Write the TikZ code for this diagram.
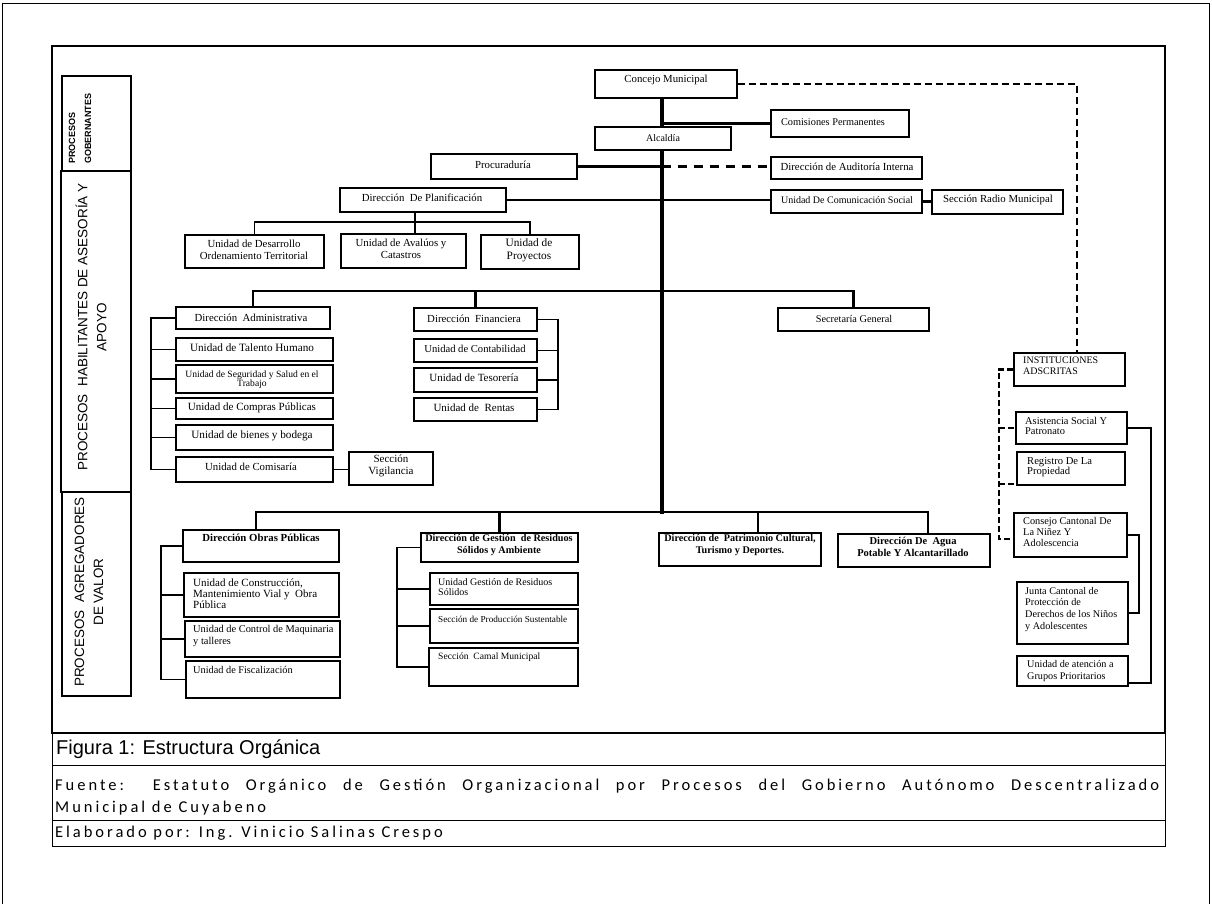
\documentclass[tikz,border=0pt]{standalone}
\usepackage{fontspec}
\setmainfont{Liberation Serif}
\newfontfamily\arialf{Liberation Sans}
\newfontfamily\calib[LetterSpace=18]{Carlito}
\usetikzlibrary{fit}
\tikzset{
 box/.style={draw, line width=1.2pt, inner sep=0pt},
 txt/.style={inner sep=0pt, font=\fontsize{10.8}{11.5}\selectfont, align=center},
 txtl/.style={inner sep=0pt, font=\fontsize{10.3}{11}\selectfont, align=left, anchor=north west},
 txtb/.style={inner sep=0pt, font=\bfseries\fontsize{10.2}{12}\selectfont, align=center},
 trunk/.style={line width=4.5pt},
 mainl/.style={line width=2.6pt},
 thinl/.style={line width=1.1pt},
 dashl/.style={line width=2.6pt, dash pattern=on 7pt off 4pt},
 dashm/.style={line width=2.6pt, dash pattern=on 9pt off 7pt},
 dashb/.style={line width=2.2pt, dash pattern=on 6pt off 3pt},
 lab/.style={inner sep=0pt, font=\arialf\fontsize{13.5}{19}\selectfont, align=center, rotate=90},
 captxt/.style={inner sep=0pt, anchor=west},
}
\newcommand\mkbox[5]{\node[box, fit={(#2,#3)(#4,#5)}] (#1) {};}
\newcommand\fs[1]{\fontsize{#1}{11.5}\selectfont}
\begin{document}
\begin{tikzpicture}[x=1pt,y=-1pt]
\useasboundingbox (0,0) rectangle (1212,904);
% frames
\draw[line width=1pt] (2,904) -- (2,4) -- (1209,4) -- (1209,904);
\draw[line width=2pt] (52,46) rectangle (1165,733);
\draw[line width=1pt] (52,733) rectangle (1165,765);
\draw[line width=1pt] (52,765) rectangle (1165,820);
\draw[line width=1pt] (52,820) rectangle (1165,846);
% left process labels
\mkbox{gob}{62}{76}{131}{171}
\mkbox{hab}{61}{171}{131}{492}
\mkbox{agr}{62}{492}{131}{696}
\node[inner sep=0pt, rotate=90, anchor=west, align=left, font=\arialf\bfseries\fontsize{9}{16}\selectfont] (gob-t) at (80,164) {PROCESOS\\GOBERNANTES};
\node[lab] (hab-t) at (91,327) {PROCESOS~~HABILITANTES DE ASESORÍA Y\\APOYO};
\node[lab] (agr-t) at (89,592) {PROCESOS~~AGREGADORES\\DE VALOR};
% boxes
\mkbox{concejo}{595}{70}{737}{98}
\mkbox{alcaldia}{595}{127}{731}{150}
\mkbox{comis}{771}{110}{909}{137}
\mkbox{procu}{431}{154}{577}{179}
\mkbox{audit}{771}{157}{922}{179}
\mkbox{planif}{340}{188}{506}{212}
\mkbox{comun}{771}{190}{922}{213}
\mkbox{radio}{932}{190}{1063}{214}
\mkbox{desarr}{185}{235}{324}{268}
\mkbox{avaluos}{341}{234}{466}{268}
\mkbox{proyec}{481}{235}{579}{269}
\mkbox{admin}{176}{307}{330}{329}
\mkbox{talento}{176}{338}{333}{361}
\mkbox{segur}{176}{365}{333}{393}
\mkbox{compras}{176}{398}{333}{419}
\mkbox{bienes}{176}{425}{333}{450}
\mkbox{comisar}{176}{457}{333}{482}
\mkbox{vigil}{349}{452}{433}{485}
\mkbox{finan}{414}{308}{537}{331}
\mkbox{contab}{414}{339}{537}{362}
\mkbox{tesor}{414}{368}{537}{392}
\mkbox{rentas}{414}{398}{537}{421}
\mkbox{secre}{778}{308}{929}{331}
\mkbox{obras}{183}{530}{339}{562}
\mkbox{constr}{184}{573}{339}{617}
\mkbox{maquin}{185}{621}{340}{657}
\mkbox{fiscal}{186}{661}{340}{698}
\mkbox{resid}{421}{533}{578}{562}
\mkbox{ugres}{430}{573}{578}{605}
\mkbox{produc}{430}{609}{578}{643}
\mkbox{camal}{429}{648}{578}{686}
\mkbox{patrim}{659}{533}{821}{566}
\mkbox{agua}{838}{534}{990}{567}
\mkbox{instit}{1014}{353}{1125}{386}
\mkbox{asist}{1016}{412}{1127}{444}
\mkbox{regis}{1017}{452}{1125}{485}
\mkbox{conse}{1014}{513}{1127}{557}
\mkbox{junta}{1017}{582}{1128}{644}
\mkbox{grupos}{1017}{656}{1128}{686}
% texts
\node[txt] (concejo-t) at (666,80) {Concejo Municipal};
\node[txt, font=\fs{10}] (alcaldia-t) at (663,138) {Alcaldía};
\node[txt, font=\fs{10.3}] (comis-t) at (833,122) {Comisiones Permanentes};
\node[txt] (procu-t) at (503,165) {Procuraduría};
\node[txt] (audit-t) at (847,167) {Dirección de Auditoría Interna};
\node[txt] (planif-t) at (422,198) {Dirección~~De Planificación};
\node[txt, font=\fs{10}] (comun-t) at (847,200) {Unidad De Comunicación Social};
\node[txt] (radio-t) at (998,200) {Sección Radio Municipal};
\node[txt] (desarr-t) at (254,250) {Unidad de Desarrollo\\Ordenamiento Territorial};
\node[txt] (avaluos-t) at (401,249) {Unidad de Avalúos y\\Catastros};
\node[txt, font=\fontsize{11.3}{13}\selectfont] (proyec-t) at (529,250) {Unidad de\\Proyectos};
\node[txt] (admin-t) at (251,318) {Dirección~~Administrativa};
\node[txt, font=\fs{11.2}] (talento-t) at (252,348) {Unidad de Talento Humano};
\node[txt, font=\fontsize{9.6}{9}\selectfont] (segur-t) at (252,380) {Unidad de Seguridad y Salud en el\\Trabajo};
\node[txt, font=\fs{11}] (compras-t) at (252,408) {Unidad de Compras Públicas};
\node[txt, font=\fs{11.2}] (bienes-t) at (252,436) {Unidad de bienes y bodega};
\node[txt] (comisar-t) at (251,467) {Unidad de Comisaría};
\node[txt, font=\fontsize{11}{12}\selectfont] (vigil-t) at (391,466) {Sección\\Vigilancia};
\node[txt] (finan-t) at (474,319) {Dirección~~Financiera};
\node[txt, font=\fs{10.6}] (contab-t) at (475,349) {Unidad de Contabilidad};
\node[txt, font=\fs{11}] (tesor-t) at (474,378) {Unidad de Tesorería};
\node[txt, font=\fs{11}] (rentas-t) at (474,408) {Unidad de~~Rentas};
\node[txt, font=\fs{10.3}] (secre-t) at (854,319) {Secretaría General};
\node[txtb, font=\bfseries\fs{10.8}] (obras-t) at (261,538) {Dirección Obras Públicas};
\node[txtl, font=\fontsize{11}{11}\selectfont] (constr-t) at (193,579) {Unidad de Construcción,\\Mantenimiento Vial y~ Obra\\Pública};
\node[txtl, font=\fontsize{10.4}{12}\selectfont] (maquin-t) at (193,625) {Unidad de Control de Maquinaria\\y talleres};
\node[txtl] (fiscal-t) at (193,666) {Unidad de Fiscalización};
\node[txtb] (resid-t) at (499,545) {Dirección de Gestión~~de Residuos\\Sólidos y Ambiente};
\node[txtl, font=\fontsize{10}{10.5}\selectfont] (ugres-t) at (438,578) {Unidad Gestión de Residuos\\Sólidos};
\node[txtl, font=\fs{9.2}] (produc-t) at (438,616) {Sección de Producción Sustentable};
\node[txtl, font=\fs{9.6}] (camal-t) at (438,653) {Sección~~Camal Municipal};
\node[txtb] (patrim-t) at (740,545) {Dirección de~~Patrimonio Cultural,\\Turismo y Deportes.};
\node[txtb, font=\bfseries\fontsize{10.5}{12}\selectfont] (agua-t) at (913,547) {Dirección De~~Agua\\Potable Y Alcantarillado};
\node[txtl, font=\fontsize{10}{10.5}\selectfont] (instit-t) at (1023,357) {INSTITUCIONES\\ADSCRITAS};
\node[txtl, font=\fontsize{10.4}{10.5}\selectfont] (asist-t) at (1025,417) {Asistencia Social Y\\Patronato};
\node[txtl, font=\fontsize{10.6}{10.5}\selectfont] (regis-t) at (1027,457) {Registro De La\\Propiedad};
\node[txtl] (conse-t) at (1023,517) {Consejo Cantonal De\\La Niñez Y\\Adolescencia};
\node[txtl, font=\fontsize{10.2}{11.7}\selectfont] (junta-t) at (1025,587) {Junta Cantonal de\\Protección de\\Derechos de los Niños\\y Adolescentes};
\node[txtl, font=\fontsize{10.2}{12}\selectfont] (grupos-t) at (1027,660) {Unidad de atención a\\Grupos Prioritarios};
% helper coordinates
\coordinate (tk) at (662,0);
\coordinate (tkbot) at (662,514);
\coordinate (pb) at (415,222);
\coordinate (b2) at (662,291);
\coordinate (b3) at (662,512);
\coordinate (ab) at (151,0);
\coordinate (fb) at (558,0);
\coordinate (ob) at (161,0);
\coordinate (rb) at (397,0);
\coordinate (dc) at (1077,0);
\coordinate (db) at (999,0);
\coordinate (sb1) at (1151,0);
\coordinate (sb2) at (1139,0);
% trunk
\draw[trunk] (concejo.south -| tk) -- (alcaldia.north -| tk);
\draw[trunk] (alcaldia.south -| tk) -- (tkbot);
% top branches
\draw[mainl] (tk |- comis.west) -- (comis.west);
\draw[mainl] (procu.east) -- (tk |- procu.east);
\draw[dashm] (tk |- procu.east) -- (audit.west |- procu.east);
\draw[mainl] (planif.east) -- (comun.west |- planif.east);
\draw[mainl] (comun.east) -- (radio.west |- comun.east);
\draw[dashl] (concejo.east) -| (dc |- instit.north);
% planificacion children
\draw[thinl] (planif.south -| pb) -- (avaluos.north -| pb);
\draw[thinl] (desarr.north) |- (pb) -| (proyec.north);
% second bar
\draw[mainl] (admin.north) -- (admin.north |- b2) -- (secre.north |- b2) -- (secre.north);
\draw[mainl] (finan.north) -- (finan.north |- b2);
% admin bracket
\draw[thinl] (admin.west) -- (admin.west -| ab) -- (comisar.west -| ab) -- (comisar.west);
\draw[thinl] (talento.west -| ab) -- (talento.west);
\draw[thinl] (segur.west -| ab) -- (segur.west);
\draw[thinl] (compras.west -| ab) -- (compras.west);
\draw[thinl] (bienes.west -| ab) -- (bienes.west);
\draw[thinl] (comisar.east) -- (vigil.west |- comisar.east);
% finance bracket
\draw[thinl] (finan.east) -- (finan.east -| fb) -- (rentas.east -| fb) -- (rentas.east);
\draw[thinl] (contab.east) -- (contab.east -| fb);
\draw[thinl] (tesor.east) -- (tesor.east -| fb);
% third bar
\draw[mainl] ([xshift=-5pt]obras.north) -- ([xshift=-5pt]obras.north |- b3) -- ([xshift=14pt]agua.north |- b3) -- ([xshift=14pt]agua.north);
\draw[mainl] (resid.north) -- (resid.north |- b3);
\draw[mainl] ([xshift=18pt]patrim.north) -- ([xshift=18pt]patrim.north |- b3);
% obras bracket
\draw[thinl] (obras.west) -- (obras.west -| ob) -- (fiscal.west -| ob) -- (fiscal.west);
\draw[thinl] (constr.west -| ob) -- (constr.west);
\draw[thinl] (maquin.west -| ob) -- (maquin.west);
% residuos bracket
\draw[thinl] (resid.west) -- (resid.west -| rb) -- (camal.west -| rb) -- (camal.west);
\draw[thinl] (ugres.west -| rb) -- (ugres.west);
\draw[thinl] (produc.west -| rb) -- (produc.west);
% instituciones dashed bracket
\draw[dashb] (instit.west) -- (instit.west -| db) -- ([yshift=-4pt]conse.west -| db) -- ([yshift=-4pt]conse.west);
\draw[dashb] (asist.west -| db) -- (asist.west);
\draw[dashb] ([yshift=2pt]regis.south west -| db) -- ([yshift=2pt]regis.south west);
% right solid brackets
\draw[thinl] (asist.east) -- (asist.east -| sb1) -- ([yshift=-12pt]grupos.east -| sb1) -- ([yshift=-12pt]grupos.east);
\draw[thinl] (conse.east) -- (conse.east -| sb2) -- (junta.east -| sb2) -- (junta.east);
% captions
\node[captxt, font=\arialf\fontsize{20}{22}\selectfont] (fig) at (56,749) {Figura 1: Estructura Orgánica};
\node[captxt, font=\calib\fontsize{16.5}{18}\selectfont] (fue1) at (55,786) {\makebox[1104pt][s]{Fuente: Estatuto Orgánico de Gestión Organizacional por Procesos del Gobierno Autónomo Descentralizado}};
\node[captxt, font=\calib\fontsize{16.5}{18}\selectfont] (fue2) at (55,808) {Municipal de Cuyabeno};
\node[captxt, font=\calib\fontsize{16.5}{18}\selectfont] (elab) at (55,833) {Elaborado por: Ing. Vinicio Salinas Crespo};
\end{tikzpicture}
\end{document}
